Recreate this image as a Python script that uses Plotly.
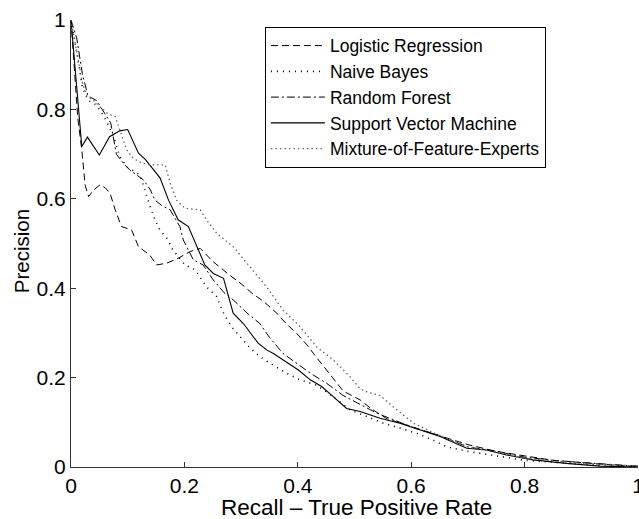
import plotly.graph_objects as go

# Logistic Regression
lr_x = [0, 0.005, 0.012, 0.019, 0.025, 0.031, 0.04, 0.051, 0.06, 0.069, 0.078, 0.089, 0.107, 0.119, 0.139, 0.151, 0.169, 0.189, 0.21, 0.228, 0.25, 0.277, 0.30, 0.319, 0.34, 0.363, 0.38, 0.398, 0.415, 0.43, 0.455, 0.48, 0.51, 0.53, 0.557, 0.6, 0.65, 0.7, 0.75, 0.8, 0.85, 0.9, 0.95, 1.0]
lr_y = [1.0, 0.9, 0.78, 0.71, 0.63, 0.605, 0.62, 0.631, 0.625, 0.612, 0.575, 0.538, 0.53, 0.493, 0.474, 0.452, 0.456, 0.467, 0.482, 0.489, 0.46, 0.432, 0.41, 0.389, 0.37, 0.344, 0.32, 0.299, 0.275, 0.25, 0.21, 0.17, 0.15, 0.13, 0.108, 0.09, 0.07, 0.05, 0.035, 0.025, 0.015, 0.01, 0.005, 0.0]

# Naive Bayes
nb_x = [0, 0.01, 0.02, 0.03, 0.045, 0.06, 0.075, 0.086, 0.1, 0.122, 0.135, 0.148, 0.157, 0.169, 0.18, 0.201, 0.219, 0.239, 0.257, 0.269, 0.283, 0.298, 0.316, 0.333, 0.351, 0.38, 0.404, 0.433, 0.463, 0.492, 0.522, 0.551, 0.58, 0.61, 0.639, 0.663, 0.7, 0.75, 0.8, 0.9, 1.0]
nb_y = [1.0, 0.93, 0.85, 0.82, 0.81, 0.78, 0.74, 0.694, 0.67, 0.653, 0.6, 0.553, 0.53, 0.512, 0.485, 0.452, 0.441, 0.403, 0.381, 0.344, 0.314, 0.291, 0.266, 0.247, 0.232, 0.21, 0.195, 0.183, 0.157, 0.128, 0.113, 0.098, 0.087, 0.075, 0.06, 0.045, 0.035, 0.025, 0.015, 0.006, 0.001]

# Random Forest
rf_x = [0, 0.01, 0.02, 0.03, 0.045, 0.06, 0.07, 0.08, 0.092, 0.104, 0.128, 0.14, 0.148, 0.16, 0.175, 0.192, 0.198, 0.216, 0.233, 0.25, 0.27, 0.286, 0.31, 0.333, 0.35, 0.374, 0.398, 0.422, 0.451, 0.48, 0.51, 0.54, 0.57, 0.6, 0.65, 0.7, 0.75, 0.8, 0.85, 0.9, 1.0]
rf_y = [1.0, 0.96, 0.88, 0.83, 0.82, 0.79, 0.77, 0.70, 0.68, 0.664, 0.642, 0.62, 0.597, 0.585, 0.575, 0.538, 0.508, 0.463, 0.452, 0.42, 0.39, 0.374, 0.345, 0.321, 0.29, 0.254, 0.232, 0.21, 0.187, 0.16, 0.14, 0.12, 0.105, 0.09, 0.07, 0.045, 0.035, 0.022, 0.015, 0.01, 0.002]

# Support Vector Machine
svm_x = [0, 0.019, 0.029, 0.05, 0.068, 0.086, 0.1, 0.119, 0.131, 0.157, 0.172, 0.189, 0.207, 0.222, 0.236, 0.251, 0.269, 0.286, 0.304, 0.33, 0.345, 0.357, 0.383, 0.401, 0.422, 0.442, 0.463, 0.486, 0.51, 0.545, 0.58, 0.616, 0.651, 0.698, 0.733, 0.768, 0.815, 0.874, 0.933, 1.0]
svm_y = [1.0, 0.717, 0.738, 0.698, 0.739, 0.752, 0.755, 0.702, 0.688, 0.647, 0.597, 0.553, 0.538, 0.493, 0.452, 0.433, 0.422, 0.344, 0.321, 0.277, 0.262, 0.254, 0.232, 0.217, 0.195, 0.18, 0.157, 0.131, 0.124, 0.109, 0.098, 0.083, 0.068, 0.042, 0.038, 0.027, 0.016, 0.008, 0.002, 0.0]

# Mixture-of-Feature-Experts
mfe_x = [0, 0.01, 0.02, 0.028, 0.04, 0.051, 0.065, 0.078, 0.089, 0.098, 0.11, 0.125, 0.139, 0.166, 0.175, 0.186, 0.201, 0.228, 0.239, 0.257, 0.286, 0.316, 0.345, 0.374, 0.404, 0.433, 0.463, 0.492, 0.51, 0.522, 0.545, 0.568, 0.604, 0.65, 0.7, 0.8, 0.9, 1.0]
mfe_y = [1.0, 0.93, 0.86, 0.83, 0.82, 0.806, 0.79, 0.784, 0.746, 0.71, 0.69, 0.68, 0.676, 0.676, 0.635, 0.597, 0.579, 0.575, 0.553, 0.523, 0.493, 0.448, 0.403, 0.351, 0.314, 0.269, 0.239, 0.202, 0.175, 0.168, 0.16, 0.135, 0.098, 0.07, 0.045, 0.02, 0.008, 0.002]

tick_vals = [0, 0.2, 0.4, 0.6, 0.8, 1]
tick_text = ["0", "0.2", "0.4", "0.6", "0.8", "1"]
x_title = "Recall \u2013 True Positive Rate"
y_title = "Precision"

FONT = "Liberation Sans, Arial, sans-serif"

fig = go.Figure()
fig.add_trace(go.Scatter(x=lr_x, y=lr_y, mode="lines", name="Logistic Regression",
                         line=dict(color="black", width=1, dash="7px,4px")))
fig.add_trace(go.Scatter(x=nb_x, y=nb_y, mode="lines", name="Naive Bayes",
                         line=dict(color="black", width=1.6, dash="1px,5px")))
fig.add_trace(go.Scatter(x=rf_x, y=rf_y, mode="lines", name="Random Forest",
                         line=dict(color="black", width=1, dash="8px,3px,2px,3px")))
fig.add_trace(go.Scatter(x=svm_x, y=svm_y, mode="lines", name="Support Vector Machine",
                         line=dict(color="black", width=1.1)))
fig.add_trace(go.Scatter(x=mfe_x, y=mfe_y, mode="lines", name="Mixture-of-Feature-Experts",
                         line=dict(color="#666666", width=1.3, dash="1.5px,3px")))

fig.update_layout(
    width=639, height=519,
    margin=dict(l=71, r=1, t=20, b=52, autoexpand=False),
    paper_bgcolor="white", plot_bgcolor="white",
    font=dict(family=FONT, size=20, color="black"),
    showlegend=True,
    legend=dict(x=0.342, y=0.985, xanchor="left", yanchor="top",
                bordercolor="black", borderwidth=1, bgcolor="white",
                font=dict(family=FONT, size=17.5, color="black"),
                tracegroupgap=0, itemwidth=54, entrywidth=288, entrywidthmode="pixels"),
    xaxis=dict(range=[0, 1], tickvals=tick_vals, ticktext=tick_text,
               ticks="inside", ticklen=5, tickcolor="#333333",
               showline=True, linecolor="#333333", linewidth=1, mirror=False,
               showgrid=False, zeroline=False, automargin=False,
               ticklabelstandoff=0, ticklabeloverflow="allow",
               tickfont=dict(family=FONT, size=21)),
    yaxis=dict(range=[0, 1], tickvals=tick_vals, ticktext=tick_text,
               ticks="inside", ticklen=5, tickcolor="#333333",
               showline=True, linecolor="#333333", linewidth=1, mirror=False,
               showgrid=False, zeroline=False, automargin=False,
               ticklabelstandoff=0, ticklabeloverflow="allow",
               tickfont=dict(family=FONT, size=21)),
    annotations=[
        dict(text=x_title, xref="paper", yref="paper", x=0.503, y=-0.090,
             xanchor="center", yanchor="middle", showarrow=False,
             font=dict(family=FONT, size=22.5, color="black")),
        dict(text=y_title, xref="paper", yref="paper", x=-0.088, y=0.483,
             xanchor="center", yanchor="middle", showarrow=False, textangle=-90,
             font=dict(family=FONT, size=20.5, color="black")),
    ],
)

fig.write_html("out.html", config={"displayModeBar": False},
               post_script="document.body.style.margin='0';document.body.style.overflow='hidden';")
